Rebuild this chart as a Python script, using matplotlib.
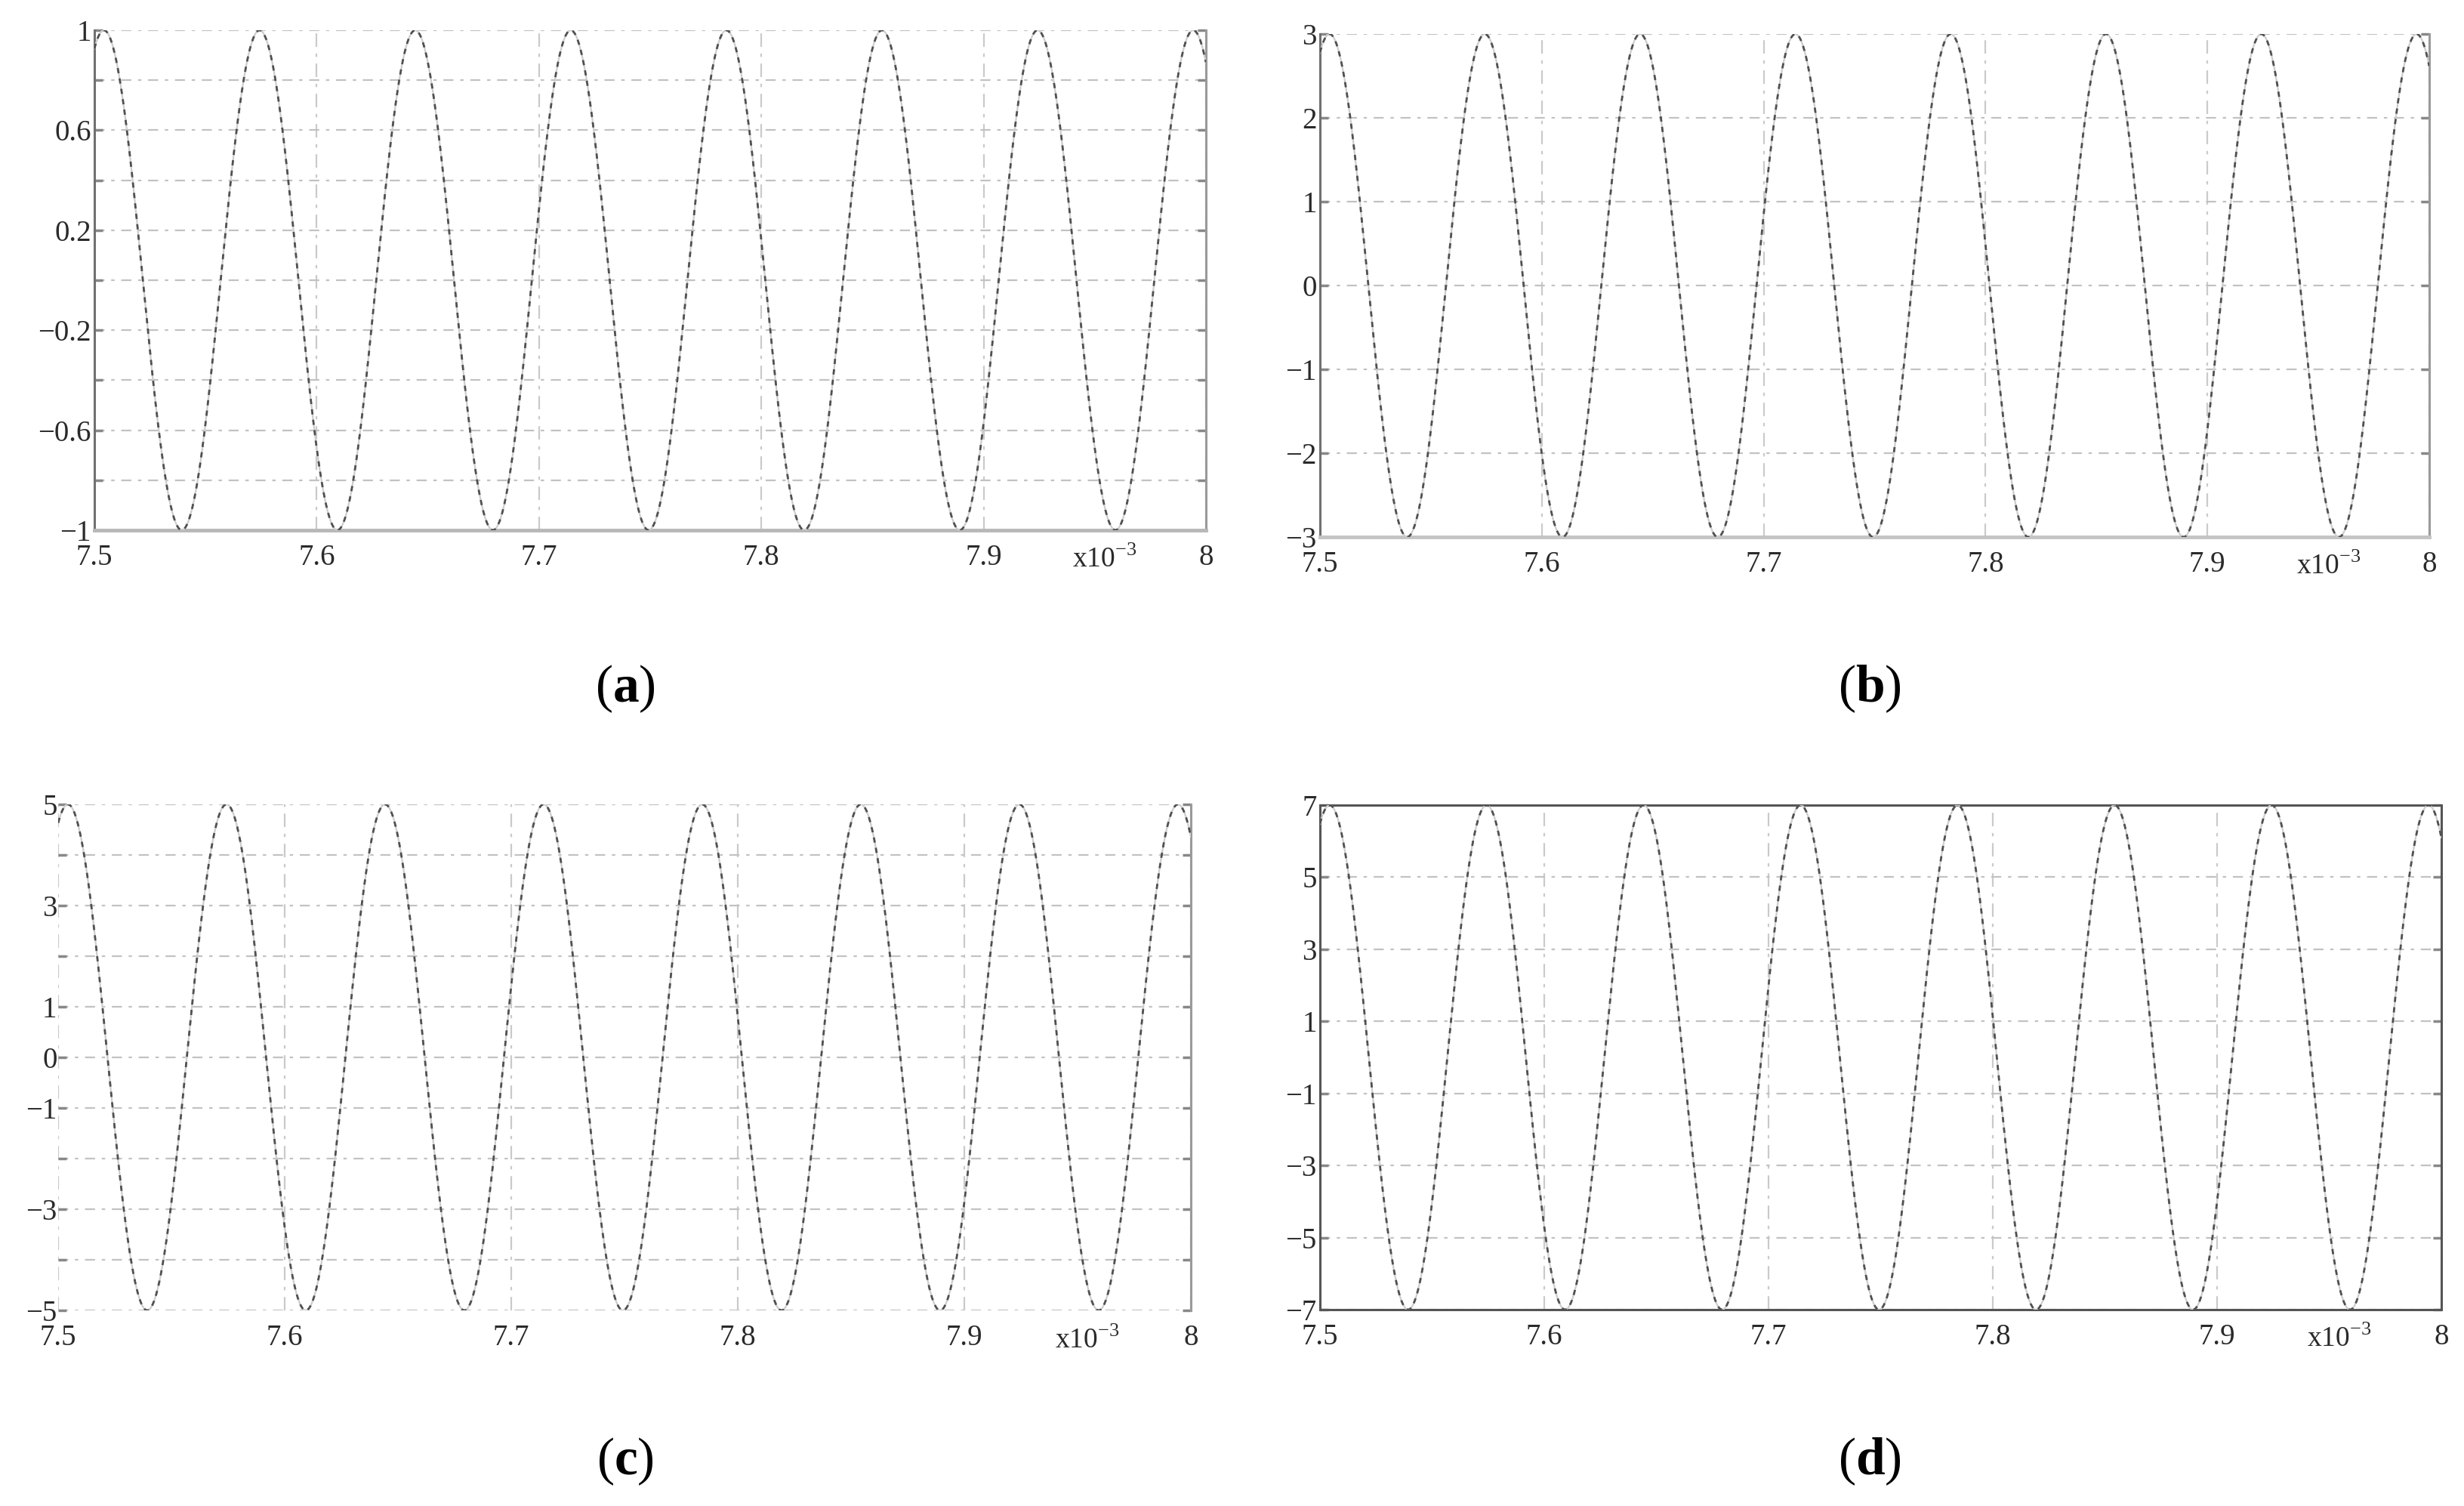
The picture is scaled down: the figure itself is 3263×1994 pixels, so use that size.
#!/usr/bin/env python3
"""Four cosine waveforms of growing amplitude, MATLAB-style panels (a)-(d)."""
import matplotlib.pyplot as plt
import numpy as np

# values
panel_labels = ["a", "b", "c", "d"]
amplitudes = [1, 3, 5, 7]
period_ms = 0.0700          # spacing of the peaks
first_peak_ms = 7.5043      # first crest just right of 7.5
x_range = (7.5, 8.0)
x_ticks = [7.5, 7.6, 7.7, 7.8, 7.9, 8.0]
x_tick_labels = ["7.5", "7.6", "7.7", "7.8", "7.9", "8"]
y_major = [
    [-1, -0.6, -0.2, 0.2, 0.6, 1],
    [-3, -2, -1, 0, 1, 2, 3],
    [-5, -3, -1, 0, 1, 3, 5],
    [-7, -5, -3, -1, 1, 3, 5, 7],
]
y_minor = [
    [-0.8, -0.4, 0.0, 0.4, 0.8],
    [],
    [-4, -2, 2, 4],
    [],
]

plt.rcParams.update(
    {
        "font.family": ["Liberation Serif", "DejaVu Serif"],
        "mathtext.fontset": "custom",
        "mathtext.rm": "Liberation Serif",
        "mathtext.bf": "Liberation Serif:bold",
        "axes.unicode_minus": True,
    }
)

fig = plt.figure(figsize=(32.63, 19.94), dpi=100)

# [left, bottom, width, height] in figure fractions
boxes = [
    [0.0383, 0.6480, 0.4511, 0.3319],
    [0.5357, 0.6434, 0.4502, 0.3340],
    [0.0236, 0.1299, 0.4597, 0.3360],
    [0.5357, 0.1304, 0.4551, 0.3350],
]
# which spines are drawn in each panel
spines_on = [
    {"left": "#707070", "bottom": "#b8b8b8", "right": "#9a9a9a"},
    {"left": "#707070", "bottom": "#c4c4c4", "right": "#9a9a9a"},
    {"right": "#9a9a9a"},
    {"left": "#555555", "bottom": "#555555", "right": "#555555", "top": "#555555"},
]
label_pos = [(0.2538, 0.5426), (0.7588, 0.5426), (0.2538, 0.0296), (0.7588, 0.0296)]

t = np.linspace(x_range[0], x_range[1], 3000)

for i, amp in enumerate(amplitudes):
    ax = fig.add_axes(boxes[i])
    y = amp * np.cos(2 * np.pi * (t - first_peak_ms) / period_ms)

    # light base line with darker dashes on top
    ax.plot(t, y, color="#cdcdcd", lw=1.6, zorder=3)
    ax.plot(t, y, color="#505050", lw=2.0, linestyle=(0, (2.5, 2.5)), zorder=4)

    ax.set_xlim(*x_range)
    ax.set_ylim(-amp, amp)
    ax.set_xticks(x_ticks)
    ax.set_xticklabels(x_tick_labels)
    ax.set_yticks(y_major[i])
    ax.set_yticklabels([f"{v:g}".replace("-", "\u2212") for v in y_major[i]])
    ax.set_yticks(y_minor[i], minor=True)

    ax.grid(True, which="both", axis="y", color="#c2c2c2", lw=1.6,
            linestyle=(0, (6, 4, 2, 4)), zorder=1)
    ax.grid(True, which="major", axis="x", color="#cacaca", lw=1.6,
            linestyle=(0, (8, 4, 2, 4)), zorder=1)

    ax.tick_params(axis="both", which="both", length=0, labelsize=28,
                   labelcolor="#2a2a2a")
    ax.tick_params(axis="x", pad=13)
    ax.tick_params(axis="y", pad=3 if i != 2 else 1)
    ax.tick_params(axis="y", which="both", right=True, direction="in",
                   length=8, width=2.5, color="#888888")

    for name, sp in ax.spines.items():
        if name in spines_on[i]:
            sp.set_color(spines_on[i][name])
            sp.set_linewidth(3.5 if name == "bottom" and i < 2 else 2.2)
        else:
            sp.set_visible(False)

    ax.text(0.88, -0.074, r"x10$^{-3}$", transform=ax.transAxes,
            ha="left", va="baseline", fontsize=27, color="#2a2a2a")

    lx, ly = label_pos[i]
    fig.text(lx, ly, rf"($\mathbf{{{panel_labels[i]}}}$)", ha="center",
             va="center", fontsize=50, color="black")

fig.savefig("out.png", dpi=100)
plt.close(fig)
